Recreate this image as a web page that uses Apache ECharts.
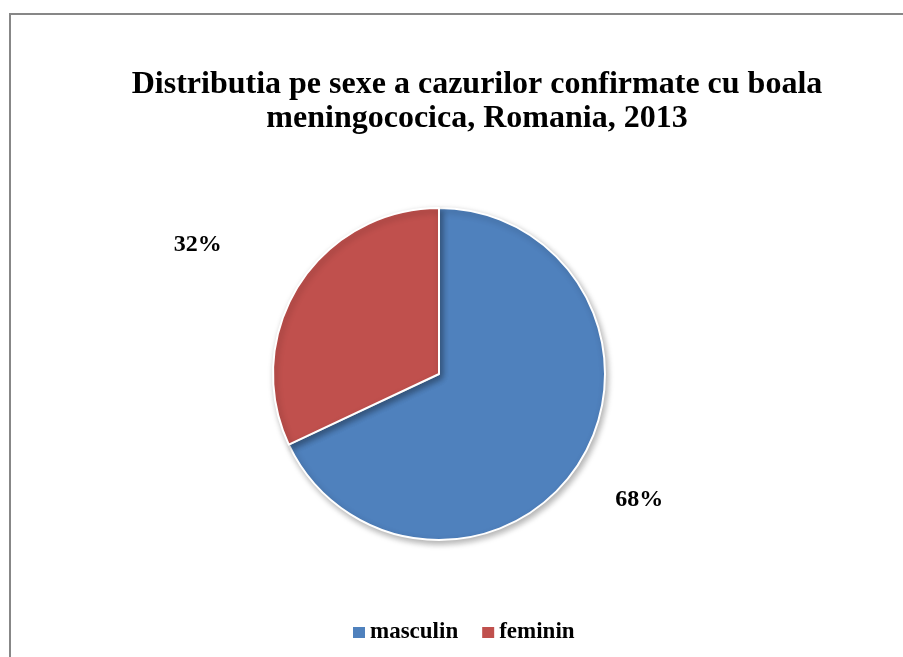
<!DOCTYPE html>
<html>
<head>
    <meta charset="utf-8">
    <title>ECharts</title>
    <script src="https://cdn.jsdelivr.net/npm/echarts@6/dist/echarts.min.js"></script>
    <style>
        body { margin: 0; background: #fff; }
    </style>
</head>
<body>
    <div id="main" style="width: 903px;height:657px;"></div>
    <script type="text/javascript">
        // date: distributia pe sexe
        var categorii = ['masculin', 'feminin'];
        var procente = [68, 32];
        var culori = ['#4F81BD', '#C0504D'];

        // mutari mici ale etichetelor (ca in Excel)
        var mutareEticheta = [[-40, -1], [-1, -3]];

        var serif = '"Liberation Serif", "Times New Roman", serif';

        var myChart = echarts.init(document.getElementById('main'));

        myChart.setOption({
            animation: false,
            color: culori,
            title: {
                text: 'Distributia pe sexe a cazurilor confirmate cu boala\nmeningococica, Romania, 2013',
                left: 472,
                top: 63,
                textAlign: 'center',
                textStyle: {
                    fontFamily: serif,
                    fontWeight: 'bold',
                    fontSize: 32,
                    lineHeight: 34,
                    color: '#000'
                }
            },
            legend: {
                data: categorii,
                left: 348,
                top: 616,
                itemWidth: 12,
                itemHeight: 11,
                itemGap: 24,
                icon: 'rect',
                itemStyle: {
                    borderWidth: 0,
                    shadowBlur: 0,
                    shadowOffsetX: 0,
                    shadowOffsetY: 0
                },
                textStyle: {
                    fontFamily: serif,
                    fontWeight: 'bold',
                    fontSize: 23,
                    color: '#000'
                }
            },
            graphic: [{
                type: 'rect',
                shape: { x: 10, y: 14, width: 1000, height: 1000 },
                style: { fill: 'none', stroke: '#878787', lineWidth: 2 },
                silent: true
            }],
            series: [{
                type: 'pie',
                center: [439, 374],
                radius: 166,
                startAngle: 90,
                clockwise: true,
                data: categorii.map(function (c, i) {
                    return { name: c, value: procente[i] };
                }),
                itemStyle: {
                    borderColor: '#fff',
                    borderWidth: 2,
                    shadowBlur: 6,
                    shadowOffsetX: 2,
                    shadowOffsetY: 3,
                    shadowColor: 'rgba(0,0,0,0.3)'
                },
                label: {
                    position: 'outside',
                    formatter: '{c}%',
                    fontFamily: serif,
                    fontWeight: 'bold',
                    fontSize: 24,
                    color: '#000'
                },
                labelLine: {
                    show: false,
                    length: 70,
                    length2: 12
                },
                labelLayout: function (params) {
                    var m = mutareEticheta[params.dataIndex];
                    return { dx: m[0], dy: m[1] };
                },
                emphasis: { disabled: true }
            }]
        });
    </script>
</body>
</html>
